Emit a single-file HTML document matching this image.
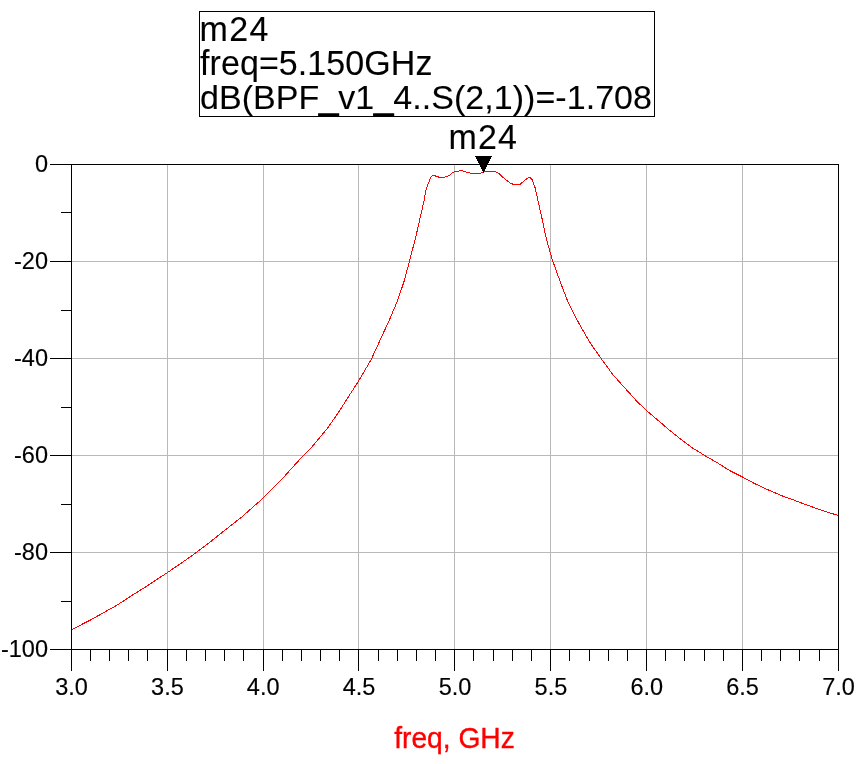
<!DOCTYPE html>
<html><head><meta charset="utf-8"><title>m24 plot</title>
<style>
html,body{margin:0;padding:0;background:#fff;}
svg{display:block;font-family:"Liberation Sans",Arial,sans-serif;}
</style></head><body>
<svg width="861" height="764" viewBox="0 0 861 764">
<rect width="861" height="764" fill="#fff"/>
<g stroke="#b9b9b9" stroke-width="1" shape-rendering="crispEdges"><line x1="167.5" y1="164" x2="167.5" y2="649"/><line x1="263.5" y1="164" x2="263.5" y2="649"/><line x1="358.5" y1="164" x2="358.5" y2="649"/><line x1="454.5" y1="164" x2="454.5" y2="649"/><line x1="550.5" y1="164" x2="550.5" y2="649"/><line x1="646.5" y1="164" x2="646.5" y2="649"/><line x1="742.5" y1="164" x2="742.5" y2="649"/><line x1="71" y1="261.5" x2="838" y2="261.5"/><line x1="71" y1="358.5" x2="838" y2="358.5"/><line x1="71" y1="455.5" x2="838" y2="455.5"/><line x1="71" y1="552.5" x2="838" y2="552.5"/></g>
<path d="M71.5,629.6 L88.8,620.9 L103.2,612.9 L117.6,604.8 L132.0,595.4 L146.4,586.4 L167.5,572.5 L181.0,563.3 L195.4,553.2 L209.8,542.3 L224.2,530.8 L241.5,517.2 L263.7,497.6 L281.8,479.3 L302.0,456.9 L311.4,447.5 L327.2,428.6 L338.2,412.9 L349.2,395.6 L358.3,381.5 L371.2,359.5 L380.6,339.0 L390.0,318.6 L397.9,299.7 L404.2,280.9 L409.5,261.0 L415.4,238.5 L421.2,213.2 L424.2,200.0 L425.6,191.6 L427.2,186.0 L428.8,182.3 L430.5,177.8 L432.0,175.9 L433.9,175.2 L436.0,176.2 L439.0,177.2 L441.8,177.5 L444.5,177.3 L447.0,176.4 L449.7,175.3 L451.2,173.8 L452.6,172.4 L455.0,171.8 L458.0,171.2 L460.9,170.4 L463.0,171.0 L467.0,172.2 L471.1,173.4 L479.5,173.5 L483.2,172.3 L486.0,171.4 L495.1,171.4 L499.3,173.9 L504.5,178.7 L510.8,183.5 L516.0,185.0 L520.2,184.3 L525.4,179.7 L529.6,177.2 L532.1,179.7 L534.9,187.0 L538.0,200.6 L542.2,219.4 L546.4,239.0 L552.0,258.9 L559.9,280.9 L567.7,301.3 L577.2,320.2 L589.7,342.2 L600.7,357.9 L613.3,375.2 L627.5,390.9 L636.9,401.3 L646.6,410.7 L660.5,422.4 L670.8,431.3 L681.1,439.5 L691.3,447.2 L704.2,455.2 L717.0,462.6 L729.8,470.6 L742.4,477.0 L755.5,484.0 L768.3,489.9 L781.2,495.5 L794.0,500.1 L806.8,505.0 L819.7,509.6 L837.6,515.3" fill="none" stroke="#ff0000" stroke-width="1" stroke-linejoin="round" shape-rendering="crispEdges"/>
<g stroke="#000" stroke-width="1" shape-rendering="crispEdges"><rect x="71.5" y="164.5" width="767" height="485" fill="none"/><line x1="50" y1="164.5" x2="71" y2="164.5"/><line x1="61" y1="212.5" x2="71" y2="212.5"/><line x1="50" y1="261.5" x2="71" y2="261.5"/><line x1="61" y1="310.5" x2="71" y2="310.5"/><line x1="50" y1="358.5" x2="71" y2="358.5"/><line x1="61" y1="407.5" x2="71" y2="407.5"/><line x1="50" y1="455.5" x2="71" y2="455.5"/><line x1="61" y1="504.5" x2="71" y2="504.5"/><line x1="50" y1="552.5" x2="71" y2="552.5"/><line x1="61" y1="601.5" x2="71" y2="601.5"/><line x1="50" y1="649.5" x2="71" y2="649.5"/><line x1="71.5" y1="649" x2="71.5" y2="671"/><line x1="90.5" y1="649" x2="90.5" y2="661"/><line x1="109.5" y1="649" x2="109.5" y2="661"/><line x1="128.5" y1="649" x2="128.5" y2="661"/><line x1="147.5" y1="649" x2="147.5" y2="661"/><line x1="167.5" y1="649" x2="167.5" y2="671"/><line x1="186.5" y1="649" x2="186.5" y2="661"/><line x1="205.5" y1="649" x2="205.5" y2="661"/><line x1="224.5" y1="649" x2="224.5" y2="661"/><line x1="243.5" y1="649" x2="243.5" y2="661"/><line x1="263.5" y1="649" x2="263.5" y2="671"/><line x1="282.5" y1="649" x2="282.5" y2="661"/><line x1="301.5" y1="649" x2="301.5" y2="661"/><line x1="320.5" y1="649" x2="320.5" y2="661"/><line x1="339.5" y1="649" x2="339.5" y2="661"/><line x1="358.5" y1="649" x2="358.5" y2="671"/><line x1="378.5" y1="649" x2="378.5" y2="661"/><line x1="397.5" y1="649" x2="397.5" y2="661"/><line x1="416.5" y1="649" x2="416.5" y2="661"/><line x1="435.5" y1="649" x2="435.5" y2="661"/><line x1="454.5" y1="649" x2="454.5" y2="671"/><line x1="473.5" y1="649" x2="473.5" y2="661"/><line x1="493.5" y1="649" x2="493.5" y2="661"/><line x1="512.5" y1="649" x2="512.5" y2="661"/><line x1="531.5" y1="649" x2="531.5" y2="661"/><line x1="550.5" y1="649" x2="550.5" y2="671"/><line x1="569.5" y1="649" x2="569.5" y2="661"/><line x1="589.5" y1="649" x2="589.5" y2="661"/><line x1="608.5" y1="649" x2="608.5" y2="661"/><line x1="627.5" y1="649" x2="627.5" y2="661"/><line x1="646.5" y1="649" x2="646.5" y2="671"/><line x1="665.5" y1="649" x2="665.5" y2="661"/><line x1="684.5" y1="649" x2="684.5" y2="661"/><line x1="704.5" y1="649" x2="704.5" y2="661"/><line x1="723.5" y1="649" x2="723.5" y2="661"/><line x1="742.5" y1="649" x2="742.5" y2="671"/><line x1="761.5" y1="649" x2="761.5" y2="661"/><line x1="780.5" y1="649" x2="780.5" y2="661"/><line x1="799.5" y1="649" x2="799.5" y2="661"/><line x1="819.5" y1="649" x2="819.5" y2="661"/><line x1="838.5" y1="649" x2="838.5" y2="671"/></g>
<g font-size="23.5" fill="#000" text-anchor="end" stroke="#000" stroke-width="0.15"><text x="48" y="171.5">0</text><text x="48" y="268.5">-20</text><text x="48" y="365.5">-40</text><text x="48" y="462.5">-60</text><text x="48" y="559.5">-80</text><text x="48" y="656.5">-100</text></g>
<g font-size="23.5" fill="#000" text-anchor="middle" stroke="#000" stroke-width="0.15"><text x="71.5" y="695">3.0</text><text x="167.4" y="695">3.5</text><text x="263.2" y="695">4.0</text><text x="359.1" y="695">4.5</text><text x="455.0" y="695">5.0</text><text x="550.9" y="695">5.5</text><text x="646.8" y="695">6.0</text><text x="742.6" y="695">6.5</text><text x="838.5" y="695">7.0</text></g>
<text transform="translate(454.5,748) scale(1,1.02)" font-size="28.2" fill="#ff0000" text-anchor="middle" stroke="#ff0000" stroke-width="0.35">freq, GHz</text>
<polygon points="475,156 492,156 483.5,173" fill="#000" shape-rendering="crispEdges"/>
<text transform="translate(448.5,149) scale(1,1.03)" font-size="34" fill="#000" textLength="68.5" lengthAdjust="spacing" stroke="#000" stroke-width="0.1">m24</text>
<rect x="199.5" y="11.5" width="455" height="105" fill="#fff" stroke="#000" stroke-width="1" shape-rendering="crispEdges"/>
<text transform="translate(199.5,41) scale(1,1.03)" font-size="34" fill="#000" textLength="69" lengthAdjust="spacing" stroke="#000" stroke-width="0.1">m24</text><text transform="translate(200,75) scale(1,1.02)" font-size="34" fill="#000" textLength="232.5" lengthAdjust="spacing" stroke="#000" stroke-width="0.1">freq=5.150GHz</text><text transform="translate(200,108.5) scale(1,1.0)" font-size="34" fill="#000" textLength="452" lengthAdjust="spacing" stroke="#000" stroke-width="0.1">dB(BPF<tspan stroke-width="1.3">_</tspan>v1<tspan stroke-width="1.3">_</tspan>4..S(2,1))=-1.708</text>
</svg></body></html>
